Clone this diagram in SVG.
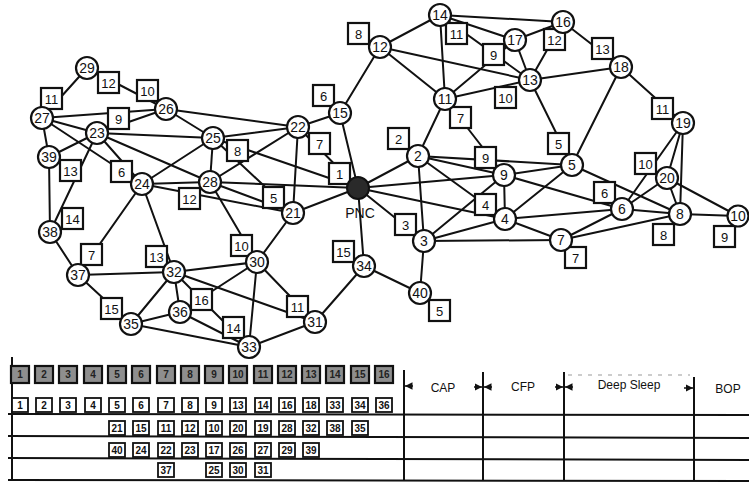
<svg xmlns="http://www.w3.org/2000/svg" width="749" height="489" viewBox="0 0 749 489">
<style>
  .bg { fill: #ffffff; }
  .e line { stroke: #111; stroke-width: 2; stroke-linecap: round; }
  .nd circle { fill: #fff; stroke: #111; stroke-width: 2.2; }
  .nd text { font-family: "Liberation Sans", Arial, sans-serif; font-size: 14px; fill: #111; text-anchor: middle; }
  .lb rect { fill: #fff; stroke: #111; stroke-width: 2.2; }
  .lb text { font-family: "Liberation Sans", Arial, sans-serif; font-size: 13px; fill: #111; text-anchor: middle; }
  .pnc circle { fill: #2a2a2a; stroke: #111; stroke-width: 2; }
  .cap { font-family: "Liberation Sans", Arial, sans-serif; font-size: 14px; fill: #111; text-anchor: middle; }
  .grid line { stroke: #111; stroke-width: 2; }
  .slot rect { fill: #fff; stroke: #111; stroke-width: 1.8; }
  .slot text { font-family: "Liberation Sans", Arial, sans-serif; font-size: 10px; font-weight: bold; fill: #111; text-anchor: middle; }
  .shade rect { fill: #8e8e8e; stroke: #111; stroke-width: 2.2; }
  .shade text { font-family: "Liberation Sans", Arial, sans-serif; font-size: 10px; font-weight: bold; fill: #222; text-anchor: middle; }
  .phase { font-family: "Liberation Sans", Arial, sans-serif; font-size: 12px; fill: #111; text-anchor: middle; }
  .tick { stroke: #111; stroke-width: 1.5; }
</style>
<defs>
  <marker id="ah" viewBox="0 0 6 6" refX="6" refY="3" markerWidth="5" markerHeight="5" orient="auto">
    <path d="M0,0 L6,3 L0,6 Z" fill="#111"/>
  </marker>
</defs>
<rect class="bg" x="0" y="0" width="749" height="489"/>

<!-- links -->
<g id="connectors" class="e">
  <!-- west cluster -->
  <line x1="42" y1="118" x2="87" y2="68"/>
  <line x1="87" y1="68" x2="166" y2="109"/>
  <line x1="42" y1="118" x2="166" y2="109"/>
  <line x1="42" y1="118" x2="97" y2="133"/>
  <line x1="97" y1="133" x2="166" y2="109"/>
  <line x1="42" y1="118" x2="49" y2="157"/>
  <line x1="42" y1="118" x2="142" y2="184"/>
  <line x1="97" y1="133" x2="49" y2="157"/>
  <line x1="97" y1="133" x2="50" y2="232"/>
  <line x1="49" y1="157" x2="50" y2="232"/>
  <line x1="50" y1="232" x2="78" y2="275"/>
  <line x1="78" y1="275" x2="142" y2="184"/>
  <line x1="78" y1="275" x2="174" y2="272"/>
  <line x1="78" y1="275" x2="131" y2="324"/>
  <line x1="142" y1="184" x2="174" y2="272"/>
  <line x1="97" y1="133" x2="142" y2="184"/>
  <line x1="97" y1="133" x2="213" y2="138"/>
  <line x1="97" y1="133" x2="210" y2="182"/>
  <line x1="166" y1="109" x2="213" y2="138"/>
  <line x1="166" y1="109" x2="298" y2="127"/>
  <line x1="213" y1="138" x2="210" y2="182"/>
  <line x1="213" y1="138" x2="142" y2="184"/>
  <line x1="213" y1="138" x2="298" y2="127"/>
  <line x1="213" y1="138" x2="293" y2="213"/>
  <line x1="213" y1="138" x2="358" y2="188"/>
  <line x1="142" y1="184" x2="210" y2="182"/>
  <line x1="142" y1="184" x2="293" y2="213"/>
  <line x1="210" y1="182" x2="298" y2="127"/>
  <line x1="210" y1="182" x2="293" y2="213"/>
  <line x1="210" y1="182" x2="358" y2="188"/>
  <line x1="210" y1="182" x2="257" y2="262"/>
  <line x1="298" y1="127" x2="293" y2="213"/>
  <line x1="298" y1="127" x2="340" y2="113"/>
  <line x1="298" y1="127" x2="358" y2="188"/>
  <line x1="293" y1="213" x2="358" y2="188"/>
  <line x1="293" y1="213" x2="257" y2="262"/>
  <line x1="340" y1="113" x2="358" y2="188"/>
  <line x1="340" y1="113" x2="380" y2="47"/>
  <!-- south cluster -->
  <line x1="174" y1="272" x2="257" y2="262"/>
  <line x1="174" y1="272" x2="180" y2="312"/>
  <line x1="174" y1="272" x2="131" y2="324"/>
  <line x1="174" y1="272" x2="315" y2="322"/>
  <line x1="174" y1="272" x2="249" y2="347"/>
  <line x1="180" y1="312" x2="257" y2="262"/>
  <line x1="180" y1="312" x2="249" y2="347"/>
  <line x1="180" y1="312" x2="131" y2="324"/>
  <line x1="131" y1="324" x2="249" y2="347"/>
  <line x1="257" y1="262" x2="249" y2="347"/>
  <line x1="257" y1="262" x2="315" y2="322"/>
  <line x1="249" y1="347" x2="315" y2="322"/>
  <line x1="315" y1="322" x2="364" y2="266"/>
  <line x1="358" y1="188" x2="364" y2="266"/>
  <line x1="364" y1="266" x2="420" y2="293"/>
  <line x1="420" y1="293" x2="424" y2="241"/>
  <!-- east cluster -->
  <line x1="358" y1="188" x2="418" y2="156"/>
  <line x1="358" y1="188" x2="424" y2="241"/>
  <line x1="358" y1="188" x2="504" y2="175"/>
  <line x1="358" y1="188" x2="505" y2="219"/>
  <line x1="418" y1="156" x2="424" y2="241"/>
  <line x1="418" y1="156" x2="445" y2="99"/>
  <line x1="418" y1="156" x2="572" y2="165"/>
  <line x1="418" y1="156" x2="504" y2="175"/>
  <line x1="418" y1="156" x2="505" y2="219"/>
  <line x1="424" y1="241" x2="504" y2="175"/>
  <line x1="424" y1="241" x2="505" y2="219"/>
  <line x1="424" y1="241" x2="561" y2="240"/>
  <line x1="504" y1="175" x2="505" y2="219"/>
  <line x1="504" y1="175" x2="572" y2="165"/>
  <line x1="505" y1="219" x2="572" y2="165"/>
  <line x1="505" y1="219" x2="622" y2="209"/>
  <line x1="505" y1="219" x2="561" y2="240"/>
  <line x1="504" y1="175" x2="622" y2="209"/>
  <line x1="572" y1="165" x2="680" y2="214"/>
  <line x1="622" y1="209" x2="680" y2="214"/>
  <line x1="561" y1="240" x2="622" y2="209"/>
  <line x1="561" y1="240" x2="680" y2="214"/>
  <line x1="622" y1="209" x2="667" y2="178"/>
  <line x1="680" y1="214" x2="667" y2="178"/>
  <line x1="683" y1="123" x2="667" y2="178"/>
  <line x1="683" y1="123" x2="680" y2="214"/>
  <line x1="683" y1="123" x2="622" y2="209"/>
  <line x1="667" y1="178" x2="738" y2="216"/>
  <line x1="680" y1="214" x2="738" y2="216"/>
  <line x1="621" y1="67" x2="683" y2="123"/>
  <line x1="621" y1="67" x2="530" y2="80"/>
  <line x1="621" y1="67" x2="572" y2="165"/>
  <line x1="530" y1="80" x2="572" y2="165"/>
  <line x1="563" y1="22" x2="621" y2="67"/>
  <line x1="563" y1="22" x2="530" y2="80"/>
  <line x1="440" y1="15" x2="563" y2="22"/>
  <line x1="440" y1="15" x2="515" y2="40"/>
  <line x1="440" y1="15" x2="445" y2="99"/>
  <line x1="440" y1="15" x2="380" y2="47"/>
  <line x1="440" y1="15" x2="530" y2="80"/>
  <line x1="380" y1="47" x2="530" y2="80"/>
  <line x1="380" y1="47" x2="445" y2="99"/>
  <line x1="445" y1="99" x2="530" y2="80"/>
  <line x1="445" y1="99" x2="515" y2="40"/>
  <line x1="445" y1="99" x2="504" y2="175"/>
  <line x1="515" y1="40" x2="530" y2="80"/>
  <line x1="515" y1="40" x2="563" y2="22"/>
</g>

<!-- link weights -->
<g id="weights" class="lb">
  <g id="w-a"><rect x="41" y="88" width="21" height="21"/><text x="51.5" y="103.5">11</text></g>
  <g id="w-b"><rect x="98" y="72" width="21" height="21"/><text x="108.5" y="87.5">12</text></g>
  <g id="w-c"><rect x="137" y="80" width="21" height="21"/><text x="147.5" y="95.5">10</text></g>
  <g id="w-d"><rect x="108" y="108" width="21" height="21"/><text x="118.5" y="123.5">9</text></g>
  <g id="w-e"><rect x="60" y="160" width="21" height="21"/><text x="70.5" y="175.5">13</text></g>
  <g id="w-f"><rect x="111" y="161" width="21" height="21"/><text x="121.5" y="176.5">6</text></g>
  <g id="w-g"><rect x="179" y="188" width="21" height="21"/><text x="189.5" y="203.5">12</text></g>
  <g id="w-h"><rect x="62" y="208" width="21" height="21"/><text x="72.5" y="223.5">14</text></g>
  <g id="w-i"><rect x="81" y="244" width="21" height="21"/><text x="91.5" y="259.5">7</text></g>
  <g id="w-j"><rect x="146" y="246" width="21" height="21"/><text x="156.5" y="261.5">13</text></g>
  <g id="w-k"><rect x="101" y="298" width="21" height="21"/><text x="111.5" y="313.5">15</text></g>
  <g id="w-l"><rect x="191" y="289" width="21" height="21"/><text x="201.5" y="304.5">16</text></g>
  <g id="w-m"><rect x="223" y="317" width="21" height="21"/><text x="233.5" y="332.5">14</text></g>
  <g id="w-n"><rect x="231" y="235" width="21" height="21"/><text x="241.5" y="250.5">10</text></g>
  <g id="w-o"><rect x="287" y="296" width="21" height="21"/><text x="297.5" y="311.5">11</text></g>
  <g id="w-p"><rect x="333" y="241" width="21" height="21"/><text x="343.5" y="256.5">15</text></g>
  <g id="w-q"><rect x="429" y="300" width="21" height="21"/><text x="439.5" y="315.5">5</text></g>
  <g id="w-r"><rect x="227" y="140" width="21" height="21"/><text x="237.5" y="155.5">8</text></g>
  <g id="w-s"><rect x="263" y="187" width="21" height="21"/><text x="273.5" y="202.5">5</text></g>
  <g id="w-t"><rect x="309" y="133" width="21" height="21"/><text x="319.5" y="148.5">7</text></g>
  <g id="w-u"><rect x="329" y="163" width="21" height="21"/><text x="339.5" y="178.5">1</text></g>
  <g id="w-v"><rect x="313" y="85" width="21" height="21"/><text x="323.5" y="100.5">6</text></g>
  <g id="w-w"><rect x="348" y="23" width="21" height="21"/><text x="358.5" y="38.5">8</text></g>
  <g id="w-x"><rect x="446" y="23" width="21" height="21"/><text x="456.5" y="38.5">11</text></g>
  <g id="w-y"><rect x="483" y="44" width="21" height="21"/><text x="493.5" y="59.5">9</text></g>
  <g id="w-z"><rect x="495" y="87" width="21" height="21"/><text x="505.5" y="102.5">10</text></g>
  <g id="w-aa"><rect x="450" y="107" width="21" height="21"/><text x="460.5" y="122.5">7</text></g>
  <g id="w-ab"><rect x="388" y="128" width="21" height="21"/><text x="398.5" y="143.5">2</text></g>
  <g id="w-ac"><rect x="475" y="147" width="21" height="21"/><text x="485.5" y="162.5">9</text></g>
  <g id="w-ad"><rect x="544" y="29" width="21" height="21"/><text x="554.5" y="44.5">12</text></g>
  <g id="w-ae"><rect x="592" y="38" width="21" height="21"/><text x="602.5" y="53.5">13</text></g>
  <g id="w-af"><rect x="652" y="98" width="21" height="21"/><text x="662.5" y="113.5">11</text></g>
  <g id="w-ag"><rect x="548" y="133" width="21" height="21"/><text x="558.5" y="148.5">5</text></g>
  <g id="w-ah"><rect x="635" y="153" width="21" height="21"/><text x="645.5" y="168.5">10</text></g>
  <g id="w-ai"><rect x="594" y="182" width="21" height="21"/><text x="604.5" y="197.5">6</text></g>
  <g id="w-aj"><rect x="653" y="224" width="21" height="21"/><text x="663.5" y="239.5">8</text></g>
  <g id="w-ak"><rect x="714" y="226" width="21" height="21"/><text x="724.5" y="241.5">9</text></g>
  <g id="w-al"><rect x="565" y="247" width="21" height="21"/><text x="575.5" y="262.5">7</text></g>
  <g id="w-am"><rect x="475" y="194" width="21" height="21"/><text x="485.5" y="209.5">4</text></g>
  <g id="w-an"><rect x="395" y="214" width="21" height="21"/><text x="405.5" y="229.5">3</text></g>
</g>

<!-- stations -->
<g id="nodes" class="nd">
  <g id="n29"><circle cx="87" cy="68" r="11"/><text x="87" y="73">29</text></g>
  <g id="n27"><circle cx="42" cy="118" r="11"/><text x="42" y="123">27</text></g>
  <g id="n23"><circle cx="97" cy="133" r="11"/><text x="97" y="138">23</text></g>
  <g id="n39"><circle cx="49" cy="157" r="11"/><text x="49" y="162">39</text></g>
  <g id="n38"><circle cx="50" cy="232" r="11"/><text x="50" y="237">38</text></g>
  <g id="n37"><circle cx="78" cy="275" r="11"/><text x="78" y="280">37</text></g>
  <g id="n35"><circle cx="131" cy="324" r="11"/><text x="131" y="329">35</text></g>
  <g id="n36"><circle cx="180" cy="312" r="11"/><text x="180" y="317">36</text></g>
  <g id="n32"><circle cx="174" cy="272" r="11"/><text x="174" y="277">32</text></g>
  <g id="n33"><circle cx="249" cy="347" r="11"/><text x="249" y="352">33</text></g>
  <g id="n31"><circle cx="315" cy="322" r="11"/><text x="315" y="327">31</text></g>
  <g id="n30"><circle cx="257" cy="262" r="11"/><text x="257" y="267">30</text></g>
  <g id="n34"><circle cx="364" cy="266" r="11"/><text x="364" y="271">34</text></g>
  <g id="n40"><circle cx="420" cy="293" r="11"/><text x="420" y="298">40</text></g>
  <g id="n24"><circle cx="142" cy="184" r="11"/><text x="142" y="189">24</text></g>
  <g id="n26"><circle cx="166" cy="109" r="11"/><text x="166" y="114">26</text></g>
  <g id="n25"><circle cx="213" cy="138" r="11"/><text x="213" y="143">25</text></g>
  <g id="n28"><circle cx="210" cy="182" r="11"/><text x="210" y="187">28</text></g>
  <g id="n22"><circle cx="298" cy="127" r="11"/><text x="298" y="132">22</text></g>
  <g id="n21"><circle cx="293" cy="213" r="11"/><text x="293" y="218">21</text></g>
  <g id="n15"><circle cx="340" cy="113" r="11"/><text x="340" y="118">15</text></g>
  <g id="n12"><circle cx="380" cy="47" r="11"/><text x="380" y="52">12</text></g>
  <g id="n14"><circle cx="440" cy="15" r="11"/><text x="440" y="20">14</text></g>
  <g id="n17"><circle cx="515" cy="40" r="11"/><text x="515" y="45">17</text></g>
  <g id="n16"><circle cx="563" cy="22" r="11"/><text x="563" y="27">16</text></g>
  <g id="n13"><circle cx="530" cy="80" r="11"/><text x="530" y="85">13</text></g>
  <g id="n18"><circle cx="621" cy="67" r="11"/><text x="621" y="72">18</text></g>
  <g id="n11"><circle cx="445" cy="99" r="11"/><text x="445" y="104">11</text></g>
  <g id="n19"><circle cx="683" cy="123" r="11"/><text x="683" y="128">19</text></g>
  <g id="n20"><circle cx="667" cy="178" r="11"/><text x="667" y="183">20</text></g>
  <g id="n10"><circle cx="738" cy="216" r="10.5"/><text x="738" y="221">10</text></g>
  <g id="n8"><circle cx="680" cy="214" r="11"/><text x="680" y="219">8</text></g>
  <g id="n6"><circle cx="622" cy="209" r="11"/><text x="622" y="214">6</text></g>
  <g id="n7"><circle cx="561" cy="240" r="11"/><text x="561" y="245">7</text></g>
  <g id="n5"><circle cx="572" cy="165" r="11"/><text x="572" y="170">5</text></g>
  <g id="n4"><circle cx="505" cy="219" r="11"/><text x="505" y="224">4</text></g>
  <g id="n9"><circle cx="504" cy="175" r="11"/><text x="504" y="180">9</text></g>
  <g id="n3"><circle cx="424" cy="241" r="11"/><text x="424" y="246">3</text></g>
  <g id="n2"><circle cx="418" cy="156" r="11"/><text x="418" y="161">2</text></g>
  <g id="pnc" class="pnc"><circle cx="358" cy="188" r="11"/><text class="cap" x="360" y="218">PNC</text></g>
</g>

<!-- superframe schedule -->
<g id="schedule">
  <g class="grid">
    <line x1="12" y1="357" x2="12" y2="481"/>
    <line x1="404" y1="370" x2="404" y2="481"/>
    <line x1="483" y1="372" x2="483" y2="481"/>
    <line x1="564" y1="372" x2="564" y2="481"/>
    <line x1="694" y1="377" x2="694" y2="481"/>
    <line x1="8" y1="414" x2="749" y2="415"/>
    <line x1="8" y1="436" x2="749" y2="438"/>
    <line x1="8" y1="458" x2="749" y2="460"/>
    <line x1="8" y1="480" x2="749" y2="481"/>
  </g>
  <line x1="568" y1="375" x2="690" y2="375" stroke="#999" stroke-width="1" stroke-dasharray="4 6"/>
  <g class="tick">
    <line x1="413" y1="386" x2="405" y2="386" marker-end="url(#ah)"/>
    <line x1="474" y1="387" x2="482" y2="387" marker-end="url(#ah)"/>
    <line x1="492" y1="387" x2="484" y2="387" marker-end="url(#ah)"/>
    <line x1="555" y1="387" x2="563" y2="387" marker-end="url(#ah)"/>
    <line x1="573" y1="387" x2="565" y2="387" marker-end="url(#ah)"/>
    <line x1="684" y1="388" x2="693" y2="388" marker-end="url(#ah)"/>
  </g>
  <text class="phase" x="443" y="392">CAP</text>
  <text class="phase" x="523" y="391">CFP</text>
  <text class="phase" x="629" y="389">Deep Sleep</text>
  <text class="phase" x="728" y="393">BOP</text>

  <!-- slot headers -->
  <g class="shade">
    <rect x="11" y="366" width="18" height="17"/><text x="20" y="378">1</text>
    <rect x="35" y="366" width="18" height="17"/><text x="44" y="378">2</text>
    <rect x="59" y="366" width="18" height="17"/><text x="68" y="378">3</text>
    <rect x="84" y="366" width="18" height="17"/><text x="93" y="378">4</text>
    <rect x="108" y="366" width="18" height="17"/><text x="117" y="378">5</text>
    <rect x="132" y="366" width="18" height="17"/><text x="141" y="378">6</text>
    <rect x="157" y="366" width="18" height="17"/><text x="166" y="378">7</text>
    <rect x="181" y="366" width="18" height="17"/><text x="190" y="378">8</text>
    <rect x="205" y="366" width="18" height="17"/><text x="214" y="378">9</text>
    <rect x="229" y="366" width="18" height="17"/><text x="238" y="378">10</text>
    <rect x="254" y="366" width="18" height="17"/><text x="263" y="378">11</text>
    <rect x="278" y="366" width="18" height="17"/><text x="287" y="378">12</text>
    <rect x="302" y="366" width="18" height="17"/><text x="311" y="378">13</text>
    <rect x="326" y="366" width="18" height="17"/><text x="335" y="378">14</text>
    <rect x="351" y="366" width="18" height="17"/><text x="360" y="378">15</text>
    <rect x="375" y="366" width="18" height="17"/><text x="384" y="378">16</text>
  </g>

  <!-- slot assignments -->
  <g class="slot">
    <rect x="12" y="398" width="16" height="14"/><text x="20" y="409">1</text>
    <rect x="36" y="398" width="16" height="14"/><text x="44" y="409">2</text>
    <rect x="60" y="398" width="16" height="14"/><text x="68" y="409">3</text>
    <rect x="85" y="398" width="16" height="14"/><text x="93" y="409">4</text>
    <rect x="109" y="398" width="16" height="14"/><text x="117" y="409">5</text>
    <rect x="133" y="398" width="16" height="14"/><text x="141" y="409">6</text>
    <rect x="158" y="398" width="16" height="14"/><text x="166" y="409">7</text>
    <rect x="182" y="398" width="16" height="14"/><text x="190" y="409">8</text>
    <rect x="206" y="398" width="16" height="14"/><text x="214" y="409">9</text>
    <rect x="230" y="398" width="16" height="14"/><text x="238" y="409">13</text>
    <rect x="255" y="398" width="16" height="14"/><text x="263" y="409">14</text>
    <rect x="279" y="398" width="16" height="14"/><text x="287" y="409">16</text>
    <rect x="303" y="398" width="16" height="14"/><text x="311" y="409">18</text>
    <rect x="327" y="398" width="16" height="14"/><text x="335" y="409">33</text>
    <rect x="352" y="398" width="16" height="14"/><text x="360" y="409">34</text>
    <rect x="376" y="398" width="16" height="14"/><text x="384" y="409">36</text>

    <rect x="109" y="421" width="16" height="14"/><text x="117" y="432">21</text>
    <rect x="133" y="421" width="16" height="14"/><text x="141" y="432">15</text>
    <rect x="158" y="421" width="16" height="14"/><text x="166" y="432">11</text>
    <rect x="182" y="421" width="16" height="14"/><text x="190" y="432">12</text>
    <rect x="206" y="421" width="16" height="14"/><text x="214" y="432">10</text>
    <rect x="230" y="421" width="16" height="14"/><text x="238" y="432">20</text>
    <rect x="255" y="421" width="16" height="14"/><text x="263" y="432">19</text>
    <rect x="279" y="421" width="16" height="14"/><text x="287" y="432">28</text>
    <rect x="303" y="421" width="16" height="14"/><text x="311" y="432">32</text>
    <rect x="327" y="421" width="16" height="14"/><text x="335" y="432">38</text>
    <rect x="352" y="421" width="16" height="14"/><text x="360" y="432">35</text>

    <rect x="109" y="443" width="16" height="14"/><text x="117" y="454">40</text>
    <rect x="133" y="443" width="16" height="14"/><text x="141" y="454">24</text>
    <rect x="158" y="443" width="16" height="14"/><text x="166" y="454">22</text>
    <rect x="182" y="443" width="16" height="14"/><text x="190" y="454">23</text>
    <rect x="206" y="443" width="16" height="14"/><text x="214" y="454">17</text>
    <rect x="230" y="443" width="16" height="14"/><text x="238" y="454">26</text>
    <rect x="255" y="443" width="16" height="14"/><text x="263" y="454">27</text>
    <rect x="279" y="443" width="16" height="14"/><text x="287" y="454">29</text>
    <rect x="303" y="443" width="16" height="14"/><text x="311" y="454">39</text>

    <rect x="158" y="463" width="16" height="14"/><text x="166" y="474">37</text>
    <rect x="206" y="463" width="16" height="14"/><text x="214" y="474">25</text>
    <rect x="230" y="463" width="16" height="14"/><text x="238" y="474">30</text>
    <rect x="255" y="463" width="16" height="14"/><text x="263" y="474">31</text>
  </g>
</g>
</svg>
